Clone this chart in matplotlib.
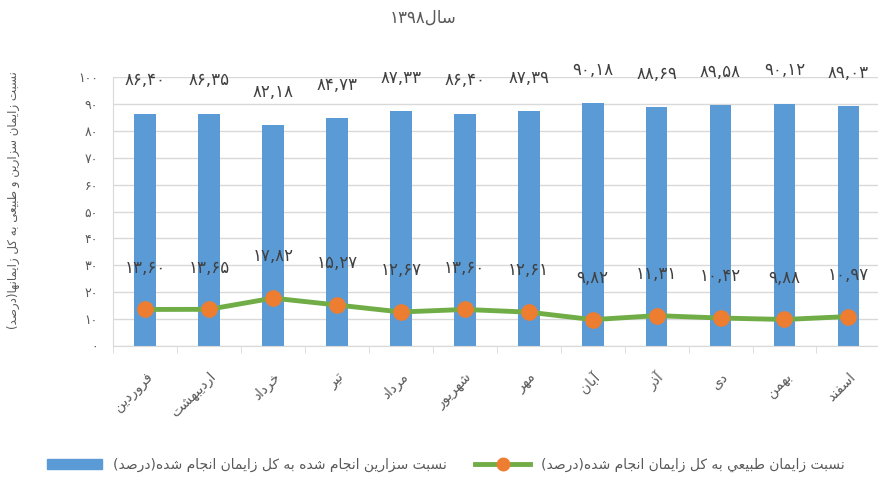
import re
import numpy as np
import matplotlib.pyplot as plt
from matplotlib.lines import Line2D
from matplotlib.patches import Patch

plt.rcParams["font.family"] = ["DejaVu Sans"]

# data (year 1398, monthly share of births in percent)
months = ["فروردین", "اردیبهشت", "خرداد", "تیر", "مرداد", "شهریور",
          "مهر", "آبان", "آذر", "دی", "بهمن", "اسفند"]
cesarean = [86.40, 86.35, 82.18, 84.73, 87.33, 86.40, 87.39, 90.18, 88.69, 89.58, 90.12, 89.03]
natural = [13.60, 13.65, 17.82, 15.27, 12.67, 13.60, 12.61, 9.82, 11.31, 10.42, 9.88, 10.97]
yticks = [0, 10, 20, 30, 40, 50, 60, 70, 80, 90, 100]

title = "سال۱۳۹۸"
ylabel = "نسبت زایمان سزارین و طبیعی به کل زایمانها(درصد)"
label_cesarean = "نسبت سزارین انجام شده به کل زایمان انجام شده(درصد)"
label_natural = "نسبت زایمان طبيعي به کل زایمان انجام شده(درصد)"

# matplotlib has no arabic shaping, so use presentation forms by hand
# (isolated, final, initial, medial)
FORMS = {
    "آ": (0xFE81, 0xFE82, None, None),
    "ا": (0xFE8D, 0xFE8E, None, None),
    "ب": (0xFE8F, 0xFE90, 0xFE91, 0xFE92),
    "ت": (0xFE95, 0xFE96, 0xFE97, 0xFE98),
    "ج": (0xFE9D, 0xFE9E, 0xFE9F, 0xFEA0),
    "خ": (0xFEA5, 0xFEA6, 0xFEA7, 0xFEA8),
    "د": (0xFEA9, 0xFEAA, None, None),
    "ذ": (0xFEAB, 0xFEAC, None, None),
    "ر": (0xFEAD, 0xFEAE, None, None),
    "ز": (0xFEAF, 0xFEB0, None, None),
    "س": (0xFEB1, 0xFEB2, 0xFEB3, 0xFEB4),
    "ش": (0xFEB5, 0xFEB6, 0xFEB7, 0xFEB8),
    "ص": (0xFEB9, 0xFEBA, 0xFEBB, 0xFEBC),
    "ط": (0xFEC1, 0xFEC2, 0xFEC3, 0xFEC4),
    "ع": (0xFEC9, 0xFECA, 0xFECB, 0xFECC),
    "ف": (0xFED1, 0xFED2, 0xFED3, 0xFED4),
    "ل": (0xFEDD, 0xFEDE, 0xFEDF, 0xFEE0),
    "م": (0xFEE1, 0xFEE2, 0xFEE3, 0xFEE4),
    "ن": (0xFEE5, 0xFEE6, 0xFEE7, 0xFEE8),
    "ه": (0xFEE9, 0xFEEA, 0xFEEB, 0xFEEC),
    "و": (0xFEED, 0xFEEE, None, None),
    "ي": (0xFEF1, 0xFEF2, 0xFEF3, 0xFEF4),
    "ک": (0xFB8E, 0xFB8F, 0xFB90, 0xFB91),
    "ی": (0xFBFC, 0xFBFD, 0xFBFE, 0xFBFF),
}
MIRROR = {"(": ")", ")": "("}


def shape(s):
    out = []
    for i, c in enumerate(s):
        if c not in FORMS:
            out.append(c)
            continue
        f = FORMS[c]
        prev = s[i - 1] if i > 0 else None
        nxt = s[i + 1] if i < len(s) - 1 else None
        join_prev = prev in FORMS and FORMS[prev][2] is not None
        join_next = nxt in FORMS and f[2] is not None
        if join_prev and join_next:
            code = f[3]
        elif join_prev:
            code = f[1]
        elif join_next:
            code = f[2]
        else:
            code = f[0]
        out.append(chr(code))
    return "".join(out)


def rtl(s):
    tokens = re.findall(r"[۰-۹0-9][۰-۹0-9,]*|.", shape(s))
    return "".join(MIRROR.get(t, t) for t in reversed(tokens))


FA = str.maketrans("0123456789", "۰۱۲۳۴۵۶۷۸۹")


def fa_num(v, dec=2):
    return f"{v:.{dec}f}".replace(".", ",").translate(FA)


blue = "#5B9BD5"
green = "#70AD47"
orange = "#ED7D31"
grid = "#D9D9D9"
txt = "#595959"

fig = plt.figure(figsize=(8.79, 4.78), dpi=100)
ax = fig.add_axes([0.1286, 0.276, 0.873, 0.563])

x = np.arange(len(months))
ax.bar(x, cesarean, width=0.34, color=blue, zorder=2)
ax.plot(x, natural, color=green, lw=3.5, marker="o", ms=11,
        mfc=orange, mec=orange, zorder=3)

for i, v in enumerate(cesarean):
    ax.annotate(fa_num(v), (i, v), xytext=(0, 24), textcoords="offset points",
                ha="center", va="center", fontsize=12, color="#404040",
                annotation_clip=False)
for i, v in enumerate(natural):
    ax.annotate(fa_num(v), (i, v), xytext=(0, 30), textcoords="offset points",
                ha="center", va="center", fontsize=12, color="#404040",
                annotation_clip=False)

ax.set_xlim(-0.5, 11.5)
ax.set_ylim(0, 100)
ax.set_yticks(yticks)
ax.set_yticklabels([str(t).translate(FA) for t in yticks])
ax.yaxis.grid(True, color=grid, lw=1)
ax.set_axisbelow(True)
for side in ["top", "right"]:
    ax.spines[side].set_visible(False)
for side in ["left", "bottom"]:
    ax.spines[side].set_color(grid)
ax.tick_params(axis="y", length=0, pad=11, labelcolor=txt, labelsize=9)

ax.set_xticks(x)
ax.set_xticklabels([rtl(m) for m in months], rotation=45, ha="right",
                   va="top", rotation_mode="anchor", color=txt, fontsize=10)
ax.set_xticks(np.arange(-0.5, 12, 1), minor=True)
ax.tick_params(axis="x", which="major", length=0, pad=17)
ax.tick_params(axis="x", which="minor", length=5, color=grid)

fig.text(423 / 879, 1 - 18 / 478, rtl(title), ha="center", va="center",
         fontsize=12, color=txt)
fig.text(0.015, 1 - 200 / 478, rtl(ylabel), rotation=90, ha="center",
         va="center", fontsize=8.5, color=txt)

handles = [Patch(color=blue),
           Line2D([], [], color=green, lw=3.5, marker="o", ms=9, mfc=orange, mec=orange)]
fig.legend(handles, [rtl(label_cesarean), rtl(label_natural)],
           loc="center left", bbox_to_anchor=(34 / 879, 1 - 465 / 478),
           ncol=2, frameon=False, fontsize=10, handlelength=4,
           columnspacing=2.0, labelcolor=txt)

fig.savefig("out.png", dpi=100)
